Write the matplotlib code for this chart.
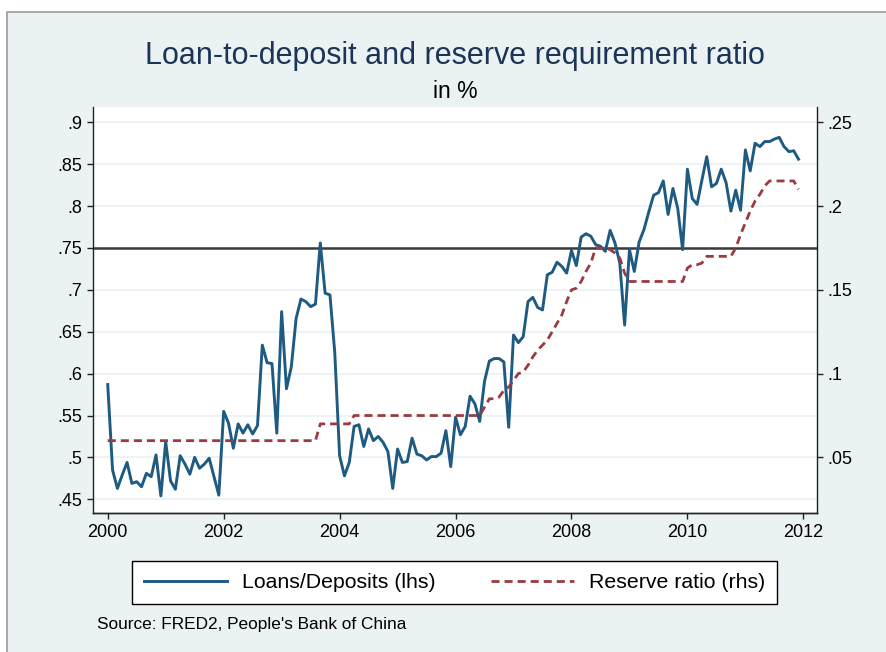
import matplotlib
matplotlib.use("Agg")
import matplotlib.pyplot as plt
import numpy as np
from matplotlib.patches import Rectangle

plt.rcParams['font.family'] = ['Liberation Sans', 'DejaVu Sans']

# monthly loan-to-deposit ratio, Jan 2000 - Dec 2011 (lhs)
loans = [
    0.587, 0.485, 0.463, 0.479, 0.494, 0.469, 0.471, 0.465, 0.481, 0.477, 0.503, 0.454,  # 2000
    0.519, 0.472, 0.462, 0.502, 0.492, 0.480, 0.500, 0.487, 0.492, 0.499, 0.477, 0.455,  # 2001
    0.555, 0.541, 0.511, 0.540, 0.529, 0.539, 0.528, 0.538, 0.634, 0.613, 0.612, 0.529,  # 2002
    0.674, 0.582, 0.608, 0.666, 0.689, 0.686, 0.680, 0.683, 0.756, 0.696, 0.694, 0.625,  # 2003
    0.502, 0.478, 0.494, 0.537, 0.539, 0.513, 0.534, 0.520, 0.525, 0.518, 0.507, 0.463,  # 2004
    0.510, 0.494, 0.495, 0.523, 0.504, 0.502, 0.497, 0.501, 0.501, 0.505, 0.532, 0.489,  # 2005
    0.548, 0.527, 0.537, 0.573, 0.564, 0.543, 0.591, 0.615, 0.618, 0.618, 0.614, 0.536,  # 2006
    0.646, 0.637, 0.644, 0.686, 0.691, 0.679, 0.676, 0.718, 0.721, 0.733, 0.728, 0.720,  # 2007
    0.747, 0.729, 0.763, 0.767, 0.764, 0.754, 0.752, 0.746, 0.771, 0.756, 0.732, 0.658,  # 2008
    0.748, 0.722, 0.757, 0.772, 0.793, 0.813, 0.816, 0.830, 0.790, 0.821, 0.797, 0.748,  # 2009
    0.844, 0.809, 0.802, 0.831, 0.859, 0.823, 0.827, 0.844, 0.828, 0.794, 0.819, 0.795,  # 2010
    0.867, 0.842, 0.875, 0.871, 0.877, 0.877, 0.880, 0.882, 0.871, 0.865, 0.866, 0.856,  # 2011
]

# monthly reserve requirement ratio (rhs)
reserve = [
    0.06, 0.06, 0.06, 0.06, 0.06, 0.06, 0.06, 0.06, 0.06, 0.06, 0.06, 0.06,  # 2000
    0.06, 0.06, 0.06, 0.06, 0.06, 0.06, 0.06, 0.06, 0.06, 0.06, 0.06, 0.06,  # 2001
    0.06, 0.06, 0.06, 0.06, 0.06, 0.06, 0.06, 0.06, 0.06, 0.06, 0.06, 0.06,  # 2002
    0.06, 0.06, 0.06, 0.06, 0.06, 0.06, 0.06, 0.06, 0.07, 0.07, 0.07, 0.07,  # 2003
    0.07, 0.07, 0.07, 0.075, 0.075, 0.075, 0.075, 0.075, 0.075, 0.075, 0.075, 0.075,  # 2004
    0.075, 0.075, 0.075, 0.075, 0.075, 0.075, 0.075, 0.075, 0.075, 0.075, 0.075, 0.075,  # 2005
    0.075, 0.075, 0.075, 0.075, 0.075, 0.075, 0.08, 0.085, 0.085, 0.086, 0.09, 0.092,  # 2006
    0.096, 0.10, 0.101, 0.105, 0.11, 0.114, 0.117, 0.12, 0.125, 0.13, 0.135, 0.143,  # 2007
    0.15, 0.151, 0.155, 0.161, 0.166, 0.175, 0.175, 0.175, 0.174, 0.172, 0.169, 0.16,  # 2008
    0.155, 0.155, 0.155, 0.155, 0.155, 0.155, 0.155, 0.155, 0.155, 0.155, 0.155, 0.155,  # 2009
    0.163, 0.165, 0.165, 0.166, 0.17, 0.17, 0.17, 0.17, 0.17, 0.17, 0.175, 0.183,  # 2010
    0.19, 0.197, 0.203, 0.207, 0.212, 0.215, 0.215, 0.215, 0.215, 0.215, 0.215, 0.21,  # 2011
]

dates = 2000 + np.arange(len(loans)) / 12.0

xticks = [2000, 2002, 2004, 2006, 2008, 2010, 2012]
lticks = [0.45, 0.5, 0.55, 0.6, 0.65, 0.7, 0.75, 0.8, 0.85, 0.9]
llabels = ['.45', '.5', '.55', '.6', '.65', '.7', '.75', '.8', '.85', '.9']
rticks = [0.05, 0.1, 0.15, 0.2, 0.25]
rlabels = ['.05', '.1', '.15', '.2', '.25']
threshold = 0.75

bg = '#EAF2F3'
blue = '#1F5A82'
maroon = '#9B3A40'

fig = plt.figure(figsize=(8.87, 6.52), dpi=100)
fig.patch.set_facecolor('white')
# graph region
fig.patches.append(Rectangle((7 / 887, -0.01), 1.0, (652 - 12) / 652 + 0.01,
                             transform=fig.transFigure, facecolor=bg,
                             edgecolor='#9a9a9a', linewidth=1.2, zorder=-5))

ax = fig.add_axes([93 / 887, (652 - 513.3) / 652, (816.7 - 93) / 887, (513.3 - 107.3) / 652])
ax.set_facecolor('white')
ax2 = ax.twinx()

# grid lines at the lhs ticks
for t in lticks:
    ax.axhline(t, color=bg, lw=1.3, zorder=1)
ax.axhline(threshold, color='#3a3a3a', lw=1.8, zorder=2)

l1, = ax.plot(dates, loans, color=blue, lw=2.1, zorder=3)
l2, = ax2.plot(dates, reserve, color=maroon, lw=2.0, dashes=(2.9, 1.8), zorder=3)

lo, hi = 0.4333, 0.9179
ax.set_ylim(lo, hi)
ax2.set_ylim(0.05 + (lo - 0.5) / 2, 0.05 + (hi - 0.5) / 2)
ax.set_xlim(1999.746, 2012.23)

ax.set_xticks(xticks)
ax.set_xticklabels([str(x) for x in xticks])
ax.set_yticks(lticks)
ax.set_yticklabels(llabels)
ax2.set_yticks(rticks)
ax2.set_yticklabels(rlabels)

for a in (ax, ax2):
    a.spines['top'].set_visible(False)
    for s in ('left', 'right', 'bottom'):
        a.spines[s].set_color('#222222')
        a.spines[s].set_linewidth(1.0)
    a.tick_params(direction='out', length=4.5, width=1.0, color='#222222',
                  labelsize=13, labelcolor='black', pad=3)
ax2.spines['left'].set_visible(False)
ax.spines['right'].set_visible(False)

fig.text(0.513, 1 - 56 / 652, 'Loan-to-deposit and reserve requirement ratio',
         ha='center', va='center', fontsize=22, color='#1C3456')
fig.text(0.513, 1 - 91 / 652, 'in %', ha='center', va='center', fontsize=16.5,
         color='black')

leg = fig.legend([l1, l2], ['Loans/Deposits (lhs)', 'Reserve ratio (rhs)'],
                 loc='center', bbox_to_anchor=(454.5 / 887, 1 - 582.5 / 652),
                 ncol=2, fontsize=15.3, frameon=True, fancybox=False,
                 framealpha=1.0, handlelength=3.9, columnspacing=2.6,
                 handletextpad=0.7, borderpad=0.55, borderaxespad=0.0)
leg.get_frame().set_edgecolor('black')
leg.get_frame().set_facecolor('white')
leg.get_frame().set_linewidth(1.0)

fig.text(97 / 887, 1 - 625 / 652, "Source: FRED2, People's Bank of China",
         ha='left', va='center', fontsize=12.4, color='black')

fig.savefig('out.png', dpi=100, facecolor=fig.get_facecolor())
